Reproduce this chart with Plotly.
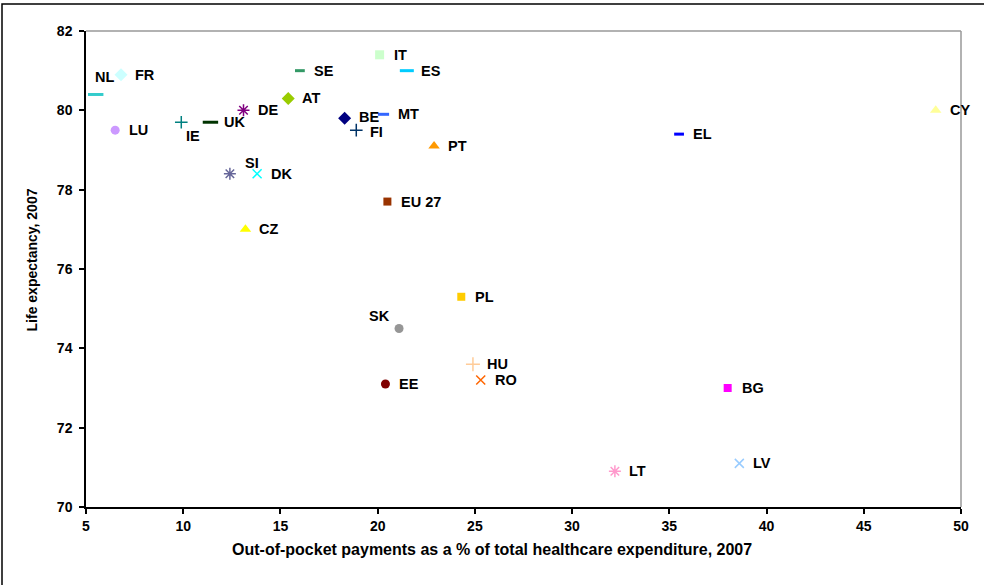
import plotly.graph_objects as go

codes = ["NL", "FR", "LU", "IE", "UK", "DE", "SI", "DK", "CZ", "AT", "SE", "BE", "FI",
         "IT", "ES", "MT", "EU 27", "PT", "EL", "CY", "PL", "SK", "HU", "RO", "EE",
         "BG", "LT", "LV"]
oop_share = [5.5, 6.8, 6.5, 9.9, 11.4, 13.1, 12.4, 13.8, 13.2, 15.4, 16.0, 18.3, 18.9,
             20.1, 21.5, 20.3, 20.5, 22.9, 35.5, 48.7, 24.3, 21.1, 24.9, 25.3, 20.4,
             38.0, 32.2, 38.6]
life_exp = [80.4, 80.9, 79.5, 79.7, 79.7, 80.0, 78.4, 78.4, 77.0, 80.3, 81.0, 79.8, 79.5,
            81.4, 81.0, 79.9, 77.7, 79.1, 79.4, 80.0, 75.3, 74.5, 73.6, 73.2, 73.1,
            73.0, 70.9, 71.1]

x_ticks = [5, 10, 15, 20, 25, 30, 35, 40, 45, 50]
y_ticks = [70, 72, 74, 76, 78, 80, 82]
x_title = "Out-of-pocket payments as a % of total healthcare expenditure, 2007"
y_title = "Life expectancy, 2007"

# styles: (symbol, color, size)
styles = {
    "NL": ("line-ew", "#33CCCC", 11), "FR": ("diamond", "#CCFFFF", 10),
    "LU": ("circle", "#CC99FF", 9), "IE": ("cross-thin", "#008080", 9),
    "UK": ("line-ew", "#003300", 11), "DE": ("asterisk", "#800080", 10),
    "SI": ("asterisk", "#666699", 10), "DK": ("x-thin", "#00FFFF", 9),
    "CZ": ("triangle-up", "#FFFF00", 10), "AT": ("diamond", "#99CC00", 10),
    "SE": ("line-ew", "#339966", 7), "BE": ("diamond", "#000080", 10),
    "FI": ("cross-thin", "#003366", 9), "IT": ("square", "#CCFFCC", 9),
    "ES": ("line-ew", "#00CCFF", 10), "MT": ("line-ew", "#3366FF", 8),
    "EU 27": ("square", "#993300", 8), "PT": ("triangle-up", "#FF9900", 10),
    "EL": ("line-ew", "#0000FF", 7), "CY": ("triangle-up", "#FFFF99", 10),
    "PL": ("square", "#FFCC00", 8), "SK": ("circle", "#969696", 9),
    "HU": ("cross-thin", "#FFCC99", 10), "RO": ("x-thin", "#FF6600", 9),
    "EE": ("circle", "#800000", 9), "BG": ("square", "#FF00FF", 8),
    "LT": ("asterisk", "#FF99CC", 10), "LV": ("x-thin", "#99CCFF", 9),
}
# label placement: (xanchor, xshift, yshift)
label_pos = {
    "NL": ("center", 9, 17), "IE": ("center", 12, -14),
    "SI": ("center", 22, 11), "SK": ("center", -20, 13),
    "BE": ("left", 12, 1), "FI": ("left", 12, -2),
}

FONT = "Liberation Sans, Arial, sans-serif"

fig = go.Figure()
annotations = []
for c, xv, yv in zip(codes, oop_share, life_exp):
    sym, col, sz = styles[c]
    is_line = sym in ("line-ew", "cross-thin", "x-thin", "asterisk")
    marker = dict(symbol=sym, size=sz, color=col)
    if is_line:
        lw = 3 if sym == "line-ew" else 1.5
        marker["line"] = dict(color=col, width=lw)
    else:
        marker["line"] = dict(width=0)
    fig.add_trace(go.Scatter(x=[xv], y=[yv], mode="markers", marker=marker,
                             name=c, showlegend=False, cliponaxis=False))
    anchor, xs, ys = label_pos.get(c, ("left", 12, 0))
    annotations.append(dict(x=xv, y=yv, xref="x", yref="y", text=c, showarrow=False,
                            xanchor=anchor, yanchor="middle", xshift=xs, yshift=ys,
                            font=dict(family=FONT, size=14.5, color="black", weight="bold")))

# axis titles (positioned as in the original chart)
annotations.append(dict(x=0.464, y=-0.09, xref="paper", yref="paper", text=x_title,
                        showarrow=False, xanchor="center", yanchor="middle",
                        font=dict(family=FONT, size=16, weight="bold", color="black")))
annotations.append(dict(x=-0.0606, y=0.52, xref="paper", yref="paper", text=y_title,
                        showarrow=False, xanchor="center", yanchor="middle", textangle=-90,
                        font=dict(family=FONT, size=14, weight="bold", color="black")))

fig.update_layout(
    width=984, height=585,
    margin=dict(l=86, r=23, t=31, b=78),
    paper_bgcolor="white", plot_bgcolor="white",
    font=dict(family=FONT, color="black"),
    annotations=annotations,
    shapes=[
        # outer chart border
        dict(type="rect", xref="paper", yref="paper", x0=-0.096, x1=1.2, y0=-0.4, y1=1.0567,
             line=dict(color="black", width=1.5), layer="below"),
        # plot area gray top/right
        dict(type="line", xref="paper", yref="paper", x0=0, x1=1, y0=1, y1=1,
             line=dict(color="#999999", width=1.5)),
        dict(type="line", xref="paper", yref="paper", x0=1, x1=1, y0=0, y1=1,
             line=dict(color="#999999", width=1.5)),
    ],
)
fig.update_xaxes(
    range=[5, 50], tickvals=x_ticks, showgrid=False, zeroline=False,
    showline=True, linecolor="black", linewidth=1.5,
    ticks="outside", ticklen=5, tickcolor="black", tickwidth=1.5,
    tickfont=dict(family=FONT, size=14, weight="bold"),
)
fig.update_yaxes(
    range=[70, 82], tickvals=y_ticks, showgrid=False, zeroline=False,
    showline=True, linecolor="black", linewidth=1.5,
    ticks="outside", ticklen=5, tickcolor="black", tickwidth=1.5,
    ticklabelstandoff=4,
    tickfont=dict(family=FONT, size=14, weight="bold"),
)

fig.write_html("out.html", config={"displayModeBar": False},
               post_script="document.body.style.margin='0px';")
